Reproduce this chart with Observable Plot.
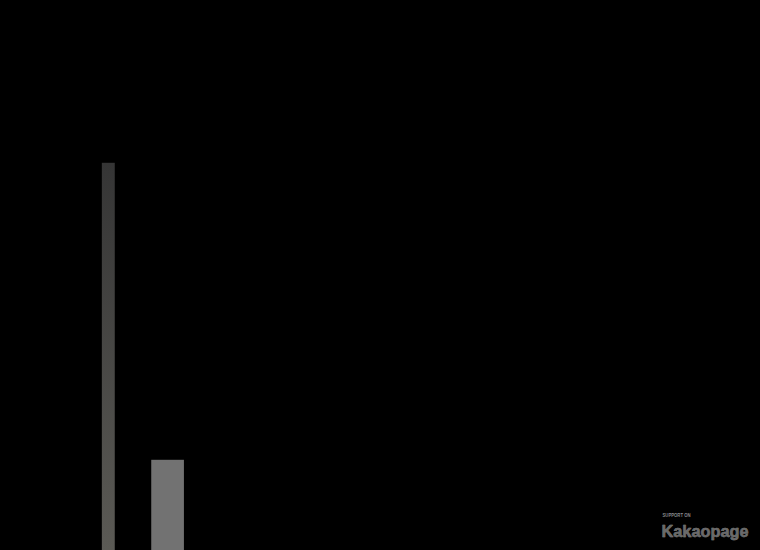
<!DOCTYPE html>
<html><head><meta charset="utf-8">
<script src="https://cdn.jsdelivr.net/npm/d3@7"></script>
<script src="https://cdn.jsdelivr.net/npm/@observablehq/plot@0.6"></script>
<style>html,body{margin:0;padding:0;background:#000;overflow:hidden}</style>
</head><body><div id="chart"></div>
<script>
const categories = ["A", "B"];
const starts = [13.4, 19.9];
const ends = [15.1, 24.2];
const values = [70.4, 16.4];
const fills = ["url(#barGrad)", "#727272"];
const data = categories.map((c, i) => ({c, x1: starts[i], x2: ends[i], v: values[i], f: fills[i]}));

const chart = Plot.plot({
  width: 760, height: 550,
  margin: 0,
  style: {background: "#000"},
  x: {domain: [0, 100], axis: null},
  y: {domain: [0, 100], axis: null},
  marks: [
    Plot.rectY(data, {x1: "x1", x2: "x2", y: "v", fill: "f"}),
    Plot.text(["SUPPORT ON"], {frameAnchor: "bottom-right", dx: -98, dy: -34, fill: "#8a8a8a", fontSize: 6, fontWeight: "bold", fontFamily: "Liberation Sans", textAnchor: "start", className: "sup"}),
    Plot.text(["Kakaopage"], {frameAnchor: "bottom-right", dx: -99, dy: -14, fill: "#6a6a6a", fontSize: 17, fontWeight: "bold", fontFamily: "Liberation Sans", textAnchor: "start", stroke: "#999", strokeWidth: 0.5, className: "kp"})
  ]
});
const svg = d3.select(chart);
const grad = svg.insert("defs", ":first-child").append("linearGradient")
  .attr("id", "barGrad").attr("x1", 0).attr("y1", 0).attr("x2", 0).attr("y2", 1);
grad.append("stop").attr("offset", "0%").attr("stop-color", "#353535");
grad.append("stop").attr("offset", "100%").attr("stop-color", "#5b5a55");
svg.selectAll(".kp text").attr("textLength", 87).attr("lengthAdjust", "spacingAndGlyphs");
svg.selectAll(".sup text").attr("textLength", 28).attr("lengthAdjust", "spacingAndGlyphs");
document.getElementById("chart").appendChild(chart);
</script></body></html>
